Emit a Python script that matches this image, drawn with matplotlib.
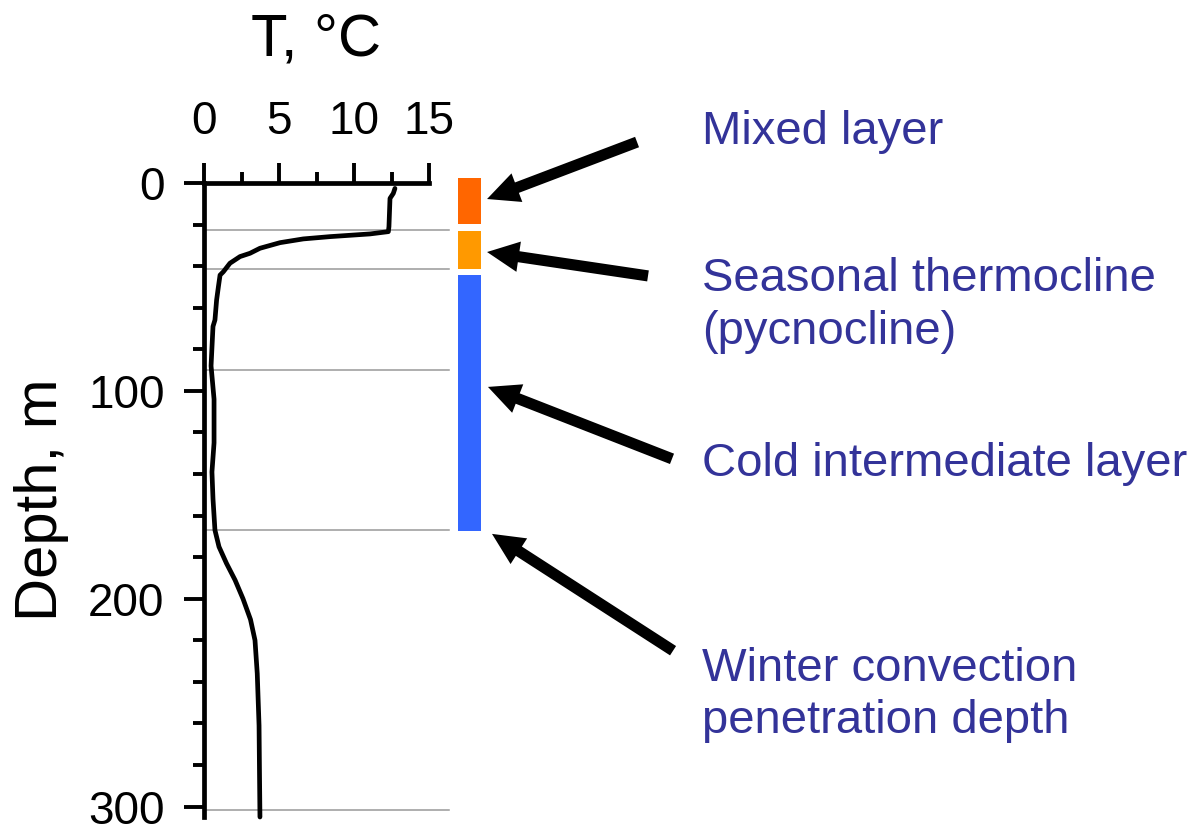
import matplotlib.pyplot as plt
from matplotlib.ticker import MultipleLocator

plt.rcParams['font.family'] = ['Liberation Sans', 'DejaVu Sans']

# temperature profile (depth in m, temperature in degC)
depth = [2.6, 5, 7.4, 21, 23.4, 24.5, 25.8, 26.9, 28.7, 31.4, 33.8, 35.4, 38.6,
         42.7, 44.3, 49.9, 56.3, 65.9, 69, 88, 104, 125, 139, 152, 167, 175,
         183, 191, 200, 210, 220, 236, 261, 284, 305]
temp = [12.73, 12.62, 12.4, 12.33, 12.29, 11.07, 8.4, 6.62, 5.07, 3.73, 3.07, 2.4, 1.73,
        1.29, 1.07, 0.96, 0.84, 0.73, 0.6, 0.47, 0.67, 0.67, 0.53, 0.6, 0.73, 1.0,
        1.5, 2.07, 2.6, 3.1, 3.4, 3.55, 3.67, 3.7, 3.73]

# layer boundaries (m)
boundaries = [22.6, 41.3, 90, 166.8, 301.5]

# coloured layer bars: top / bottom depth
layer_top = [-2.4, 23.0, 44.2]
layer_bottom = [19.7, 41.3, 167.3]
layer_colors = ['#FF6600', '#FF9900', '#3366FF']

# annotations: label, arrow tip, arrow tail, label top depth
labels = ['Mixed layer', 'Seasonal thermocline\n(pycnocline)',
          'Cold intermediate layer', 'Winter convection\npenetration depth']
tip_depth = [7.7, 33.2, 98.1, 168.8]
tip_T = [18.87, 18.87, 18.93, 19.2]
tail_T = [28.87, 29.6, 31.2, 31.27]
tail_depth = [-19.7, 44.7, 132.7, 225.0]
label_depth = [-35.1, 35.6, 124.5, 223.1]

fig = plt.figure(figsize=(11.98, 8.26), dpi=100)
ax = fig.add_axes([204 / 1198, 9 / 826, 225 / 1198, 634 / 826])

ax.plot(temp, depth, color='black', lw=3.4, clip_on=False, zorder=3,
        solid_joinstyle='round', solid_capstyle='round')

for d in boundaries:
    ax.plot([0, 16.3], [d, d], color='#999999', lw=1.1, clip_on=False, zorder=1)

ax.bar([17.7] * len(layer_top),
       [b - t for t, b in zip(layer_top, layer_bottom)],
       bottom=layer_top, width=1.55, color=layer_colors, clip_on=False)

for lab, tx, td, sx, sd, ld in zip(labels, tip_T, tip_depth, tail_T, tail_depth, label_depth):
    ax.annotate('', xy=(tx, td), xytext=(sx, sd), annotation_clip=False,
                arrowprops=dict(facecolor='black', edgecolor='none', width=8,
                                headwidth=22, headlength=23, shrink=0))
    ax.text(33.2, ld, lab, color='#333399', fontsize=34, va='top', ha='left',
            linespacing=1.25, clip_on=False)

ax.set_xlim(0, 15)
ax.set_ylim(305, 0)
ax.spines['right'].set_visible(False)
ax.spines['bottom'].set_visible(False)
ax.spines['left'].set_linewidth(3.4)
ax.spines['top'].set_linewidth(3.4)

ax.xaxis.tick_top()
ax.xaxis.set_label_position('top')
ax.xaxis.set_major_locator(MultipleLocator(5))
ax.xaxis.set_minor_locator(MultipleLocator(2.5))
ax.yaxis.set_major_locator(MultipleLocator(100))
ax.yaxis.set_minor_locator(MultipleLocator(20))
ax.tick_params(which='both', direction='out', width=2.8, labelsize=33, pad=14)
ax.tick_params(which='major', length=14.4)
ax.tick_params(which='minor', length=8)

ax.set_xlabel('T, °C', fontsize=43, labelpad=32)
ax.set_ylabel('Depth, m', fontsize=43, labelpad=14)

fig.savefig('out.png', dpi=100)
